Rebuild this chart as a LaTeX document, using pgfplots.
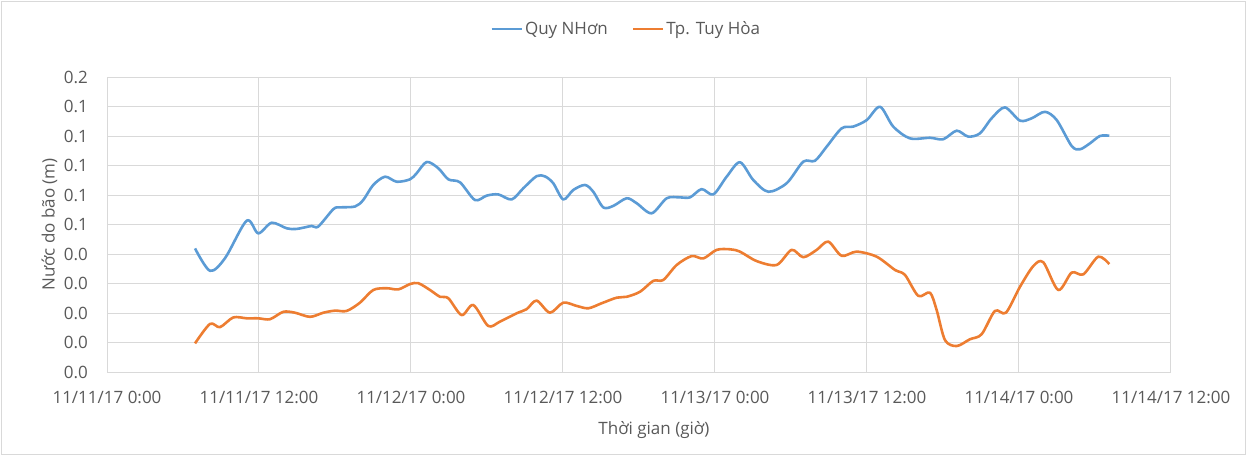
\documentclass[border=0pt]{standalone}
\usepackage{fontspec}
\setmainfont{Open Sans}
\usepackage{pgfplots}
\usepackage{pgfplotstable}
\pgfplotsset{compat=1.18}
\definecolor{xblue}{HTML}{5B9BD5}
\definecolor{xorange}{HTML}{ED7D31}
\definecolor{xgrid}{HTML}{D9D9D9}
\definecolor{xtext}{HTML}{595959}

\pgfplotstableread{
h v
6.95 4.19
8.13 3.43
9.32 3.86
11.03 5.13
11.94 4.70
13.00 5.06
14.19 4.87
14.98 4.85
16.16 4.95
16.68 4.93
17.87 5.52
18.39 5.58
19.58 5.61
20.23 5.83
21.02 6.34
21.95 6.62
22.87 6.45
23.92 6.53
24.45 6.74
25.24 7.12
26.15 6.91
26.95 6.53
27.87 6.43
29.05 5.83
29.98 5.98
30.89 6.02
31.95 5.85
32.87 6.23
33.92 6.64
34.58 6.63
35.23 6.40
36.02 5.85
36.81 6.17
37.74 6.34
38.39 6.11
39.18 5.58
39.97 5.63
41.03 5.89
41.82 5.72
43.00 5.38
44.19 5.89
45.24 5.92
46.03 5.92
46.95 6.20
47.87 6.02
48.92 6.62
49.97 7.11
51.02 6.51
52.21 6.11
53.66 6.40
54.97 7.13
55.89 7.16
56.82 7.64
58.00 8.26
58.92 8.32
59.98 8.54
61.03 8.99
62.07 8.32
63.39 7.92
64.97 7.94
66.02 7.89
67.08 8.18
67.99 7.98
68.92 8.09
69.84 8.60
70.89 8.97
72.08 8.52
73.00 8.60
74.05 8.82
74.98 8.54
76.16 7.66
76.82 7.55
77.60 7.75
78.39 8.00
79.13 8.01
}\quynhon

\pgfplotstableread{
h v
6.95 0.97
8.13 1.63
8.92 1.52
9.97 1.85
11.03 1.82
11.94 1.82
12.87 1.79
13.92 2.04
14.84 2.01
16.03 1.87
17.08 2.01
18.00 2.08
18.92 2.07
19.97 2.35
21.02 2.78
22.08 2.84
23.00 2.80
23.92 2.98
24.58 3.01
25.50 2.78
26.29 2.55
26.95 2.50
28.00 1.93
28.92 2.27
30.10 1.56
31.03 1.71
32.34 1.99
33.13 2.13
33.92 2.42
34.97 2.01
36.02 2.35
37.08 2.24
38.00 2.16
39.05 2.33
40.24 2.52
41.03 2.55
42.08 2.72
43.13 3.09
43.92 3.12
44.98 3.63
46.16 3.93
47.08 3.85
48.13 4.14
49.18 4.16
49.97 4.08
51.29 3.76
52.87 3.63
54.05 4.14
54.97 3.89
56.03 4.14
56.94 4.42
58.00 3.94
59.18 4.08
60.76 3.91
62.21 3.46
63.00 3.29
64.05 2.58
64.97 2.69
65.50 2.10
66.16 1.08
67.08 0.88
68.13 1.11
69.05 1.28
70.10 2.07
70.97 2.01
72.08 2.89
73.13 3.59
73.92 3.72
75.10 2.78
76.16 3.37
77.08 3.31
78.26 3.91
79.13 3.66
}\tuyhoa

\begin{document}
\begin{tikzpicture}
\useasboundingbox (0,0) rectangle (1247pt,456pt);
\draw[xgrid, line width=1pt] (1.5pt,2pt) rectangle (1245.5pt,454pt);
\begin{axis}[
  at={(107pt,84pt)}, anchor=south west,
  scale only axis, width=1064pt, height=295pt,
  xmin=0, xmax=84, ymin=0, ymax=10,
  xtick={0,12,...,84},
  xticklabels={11/11/17 0:00,11/11/17 12:00,11/12/17 0:00,11/12/17 12:00,11/13/17 0:00,11/13/17 12:00,11/14/17 0:00,11/14/17 12:00},
  ytick={0,1,...,10},
  yticklabels={0.0,0.0,0.0,0.0,0.0,0.1,0.1,0.1,0.1,0.1,0.2},
  major tick length=0pt,
  axis line style={draw=none},
  grid=major,
  major grid style={color=xgrid, line width=1pt},
  /pgf/number format/assume math mode=true,
  font=\fontsize{17}{20}\selectfont,
  tick label style={text=xtext, font=\fontsize{17}{20}\selectfont},
  xticklabel style={anchor=base, inner sep=0pt, yshift=-31pt},
  yticklabel style={anchor=east, inner sep=0pt, xshift=-19pt},
  xlabel={Thời gian (giờ)},
  ylabel={Nước do bão (m)},
  xlabel style={at={(axis description cs:0.514,-0.197)}, anchor=center, text=xtext, font=\fontsize{17}{20}\selectfont},
  ylabel style={at={(axis description cs:-0.054,0.5)}, anchor=center, text=xtext, font=\fontsize{17}{20}\selectfont},
  legend columns=2,
  legend style={at={(axis description cs:0.488,1.163)}, anchor=center, draw=none, fill=none,
    font=\fontsize{17}{20}\selectfont, text=xtext,
    /tikz/every even column/.append style={column sep=22pt}},
  legend image code/.code={\draw[#1] (0pt,0pt) -- (30pt,0pt);},
  every axis plot/.append style={line width=2.6pt, line join=round},
]
\addplot[xblue, smooth, tension=0.5] table[x=h, y=v] {\quynhon};
\addlegendentry{Quy NHơn}
\addplot[xorange, smooth, tension=0.5] table[x=h, y=v] {\tuyhoa};
\addlegendentry{Tp. Tuy Hòa}
\end{axis}
\end{tikzpicture}
\end{document}
